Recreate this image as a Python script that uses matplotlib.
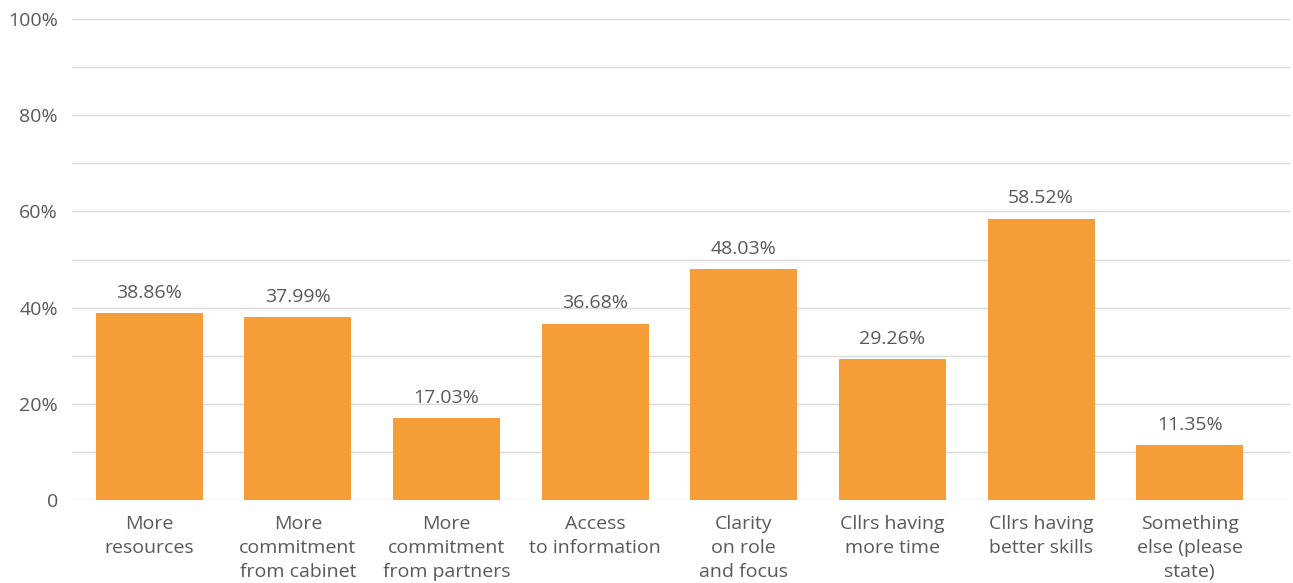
import matplotlib
matplotlib.use('Agg')
import matplotlib.pyplot as plt
import matplotlib.ticker as ticker

CATEGORIES = [
    'More\nresources',
    'More\ncommitment\nfrom cabinet',
    'More\ncommitment\nfrom partners',
    'Access\nto information',
    'Clarity\non role\nand focus',
    'Cllrs having\nmore time',
    'Cllrs having\nbetter skills',
    'Something\nelse (please\nstate)',
]
VALUES = [38.86, 37.99, 17.03, 36.68, 48.03, 29.26, 58.52, 11.35]
Y_TICKS = [0, 20, 40, 60, 80, 100]
Y_TICK_LABELS = ['0', '20%', '40%', '60%', '80%', '100%']

BAR_COLOR = '#F59E37'
TEXT_COLOR = '#595959'
GRID_COLOR = '#D9D9D9'
FONT_SIZE = 14

plt.rcParams['font.family'] = ['Open Sans', 'DejaVu Sans']

fig = plt.figure(figsize=(12.93, 5.83), dpi=100)
ax = fig.add_axes([72 / 1293, 83 / 583, (1290 - 72) / 1293, 481 / 583])

xs = list(range(len(CATEGORIES)))
bars = ax.bar(xs, VALUES, width=0.72, color=BAR_COLOR, zorder=3)

# value labels above the bars
for rect, val in zip(bars, VALUES):
    ax.annotate(f'{val:.2f}%', (rect.get_x() + rect.get_width() / 2, val),
                xytext=(0, 8), textcoords='offset points',
                ha='center', va='bottom', fontsize=FONT_SIZE, color=TEXT_COLOR)

ax.set_ylim(0, 100)
ax.set_xlim(-0.52, 7.675)
ax.set_yticks(Y_TICKS)
ax.set_yticklabels(Y_TICK_LABELS)
ax.yaxis.set_minor_locator(ticker.MultipleLocator(10))
ax.grid(axis='y', which='both', color=GRID_COLOR, linewidth=1, zorder=0)
ax.set_xticks(xs)
ax.set_xticklabels(CATEGORIES, linespacing=1.42)

ax.tick_params(axis='both', which='both', length=0, labelsize=FONT_SIZE,
               labelcolor=TEXT_COLOR)
ax.tick_params(axis='y', pad=10)
ax.tick_params(axis='x', pad=11)
for spine in ax.spines.values():
    spine.set_visible(False)

fig.savefig('out.png', dpi=100)
